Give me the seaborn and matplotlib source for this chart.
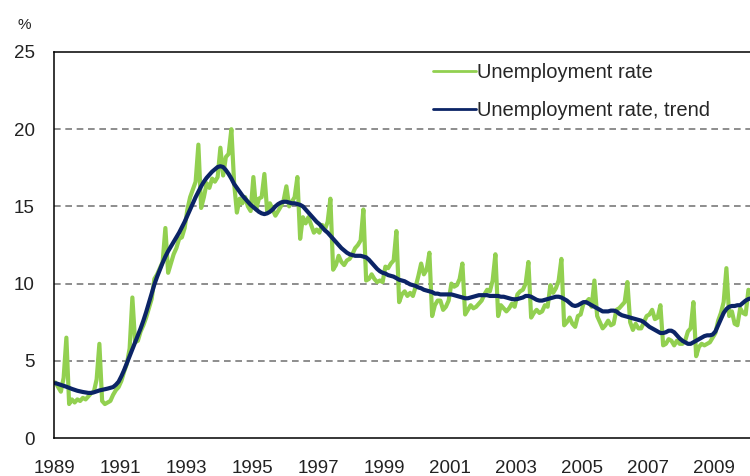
import numpy as np
import pandas as pd
import matplotlib.pyplot as plt
import matplotlib.ticker as mticker
import seaborn as sns

# monthly values, Jan 1989 .. Feb 2010
rate = [
    3.6, 3.3, 3.0, 3.9, 6.5, 2.2, 2.5, 2.3, 2.5, 2.4, 2.6, 2.5,          # 1989
    2.7, 2.9, 3.0, 3.8, 6.1, 2.4, 2.2, 2.3, 2.4, 2.8, 3.1, 3.3,          # 1990
    3.7, 4.3, 4.8, 5.8, 9.1, 6.2, 6.3, 6.9, 7.3, 7.8, 8.4, 9.0,          # 1991
    10.3, 10.6, 11.0, 11.4, 13.6, 10.7, 11.3, 11.9, 12.3, 12.9, 13.0, 13.6,  # 1992
    14.8, 15.6, 16.1, 16.6, 19.0, 14.9, 15.6, 16.5, 16.2, 16.8, 16.6, 16.9,  # 1993
    18.8, 17.0, 18.2, 18.4, 20.0, 16.5, 14.6, 15.5, 15.2, 15.6, 15.0, 14.7,  # 1994
    16.9, 14.8, 15.5, 15.6, 17.1, 14.7, 15.2, 14.8, 14.4, 14.7, 15.0, 15.4,  # 1995
    16.3, 15.0, 15.3, 15.6, 16.9, 12.9, 14.3, 13.9, 14.3, 13.8, 13.3, 13.5,  # 1996
    13.3, 13.8, 13.5, 14.0, 15.5, 10.9, 11.2, 11.8, 11.4, 11.2, 11.5, 11.6,  # 1997
    11.9, 12.3, 12.5, 12.8, 14.8, 10.2, 10.3, 10.6, 10.3, 10.1, 10.2, 10.1,  # 1998
    11.1, 11.0, 11.3, 11.5, 13.4, 8.8, 9.3, 9.5, 9.2, 9.4, 9.2, 9.8,     # 1999
    10.5, 11.3, 10.6, 10.9, 12.0, 7.9, 8.6, 8.9, 8.9, 8.3, 8.5, 8.9,     # 2000
    10.0, 9.8, 9.9, 10.3, 11.3, 8.0, 8.3, 8.6, 8.4, 8.5, 8.7, 8.9,       # 2001
    9.3, 9.6, 9.5, 10.2, 11.9, 7.9, 8.6, 8.4, 8.2, 8.4, 8.7, 8.5,        # 2002
    9.3, 9.5, 9.6, 10.0, 11.4, 7.8, 8.1, 8.3, 8.1, 8.2, 8.6, 8.5,        # 2003
    9.9, 9.4, 9.7, 10.2, 11.6, 7.3, 7.5, 7.8, 7.4, 7.2, 7.9, 8.0,        # 2004
    8.7, 8.8, 9.0, 8.5, 10.2, 7.9, 7.5, 7.1, 7.3, 7.6, 7.3, 7.4,         # 2005
    8.3, 8.4, 8.6, 8.8, 10.1, 7.5, 7.0, 7.4, 7.1, 7.1, 7.5, 7.9,         # 2006
    8.0, 8.3, 7.7, 7.8, 8.6, 6.0, 6.1, 6.4, 6.3, 6.0, 6.3, 6.1,          # 2007
    6.1, 6.3, 6.9, 7.1, 8.8, 5.3, 5.9, 6.1, 6.0, 6.1, 6.2, 6.5,          # 2008
    6.8, 7.6, 8.1, 8.8, 11.0, 7.9, 8.2, 7.4, 7.3, 8.4, 8.1, 8.0,         # 2009
    9.6, 9.5,                                                            # 2010
]

trend = [
    3.55, 3.50, 3.44, 3.38, 3.32, 3.25, 3.18, 3.12, 3.06, 3.02, 2.98, 2.95,
    2.92, 2.92, 2.96, 3.02, 3.08, 3.12, 3.16, 3.20, 3.25, 3.30, 3.45, 3.65,
    4.0, 4.4, 4.85, 5.3, 5.75, 6.2, 6.65, 7.1, 7.6, 8.15, 8.75, 9.35,
    9.95, 10.45, 10.9, 11.35, 11.75, 12.1, 12.4, 12.7, 13.0, 13.3, 13.65, 14.0,
    14.4, 14.8, 15.2, 15.6, 15.95, 16.3, 16.6, 16.85, 17.05, 17.25, 17.4, 17.55,
    17.6, 17.55, 17.35, 17.1, 16.8, 16.45, 16.2, 15.95, 15.7, 15.5, 15.3, 15.1,
    14.95, 14.8, 14.65, 14.55, 14.5, 14.55, 14.65, 14.8, 15.0, 15.15, 15.25, 15.3,
    15.3, 15.25, 15.2, 15.2, 15.15, 15.1, 15.0, 14.8, 14.6, 14.4, 14.2, 14.0,
    13.85, 13.65, 13.45, 13.3, 13.1, 12.9, 12.7, 12.5, 12.3, 12.15, 12.0, 11.9,
    11.85, 11.8, 11.8, 11.8, 11.75, 11.7, 11.55, 11.35, 11.15, 10.95, 10.8, 10.7,
    10.65, 10.55, 10.5, 10.45, 10.35, 10.25, 10.2, 10.15, 10.05, 9.95, 9.9, 9.85,
    9.75, 9.7, 9.6, 9.55, 9.5, 9.45, 9.35, 9.35, 9.3, 9.3, 9.3, 9.3,
    9.3, 9.25, 9.2, 9.15, 9.1, 9.05, 9.05, 9.1, 9.15, 9.2, 9.25, 9.25,
    9.25, 9.25, 9.2, 9.2, 9.2, 9.2, 9.15, 9.15, 9.1, 9.05, 9.0, 8.98,
    9.0, 9.05, 9.1, 9.2, 9.2, 9.15, 9.05, 8.95, 8.9, 8.9, 8.95, 9.0,
    9.05, 9.1, 9.15, 9.15, 9.1, 9.0, 8.9, 8.75, 8.6, 8.55, 8.6, 8.7,
    8.8, 8.8, 8.7, 8.6, 8.5, 8.4, 8.3, 8.2, 8.2, 8.2, 8.25, 8.25,
    8.2, 8.05, 7.95, 7.9, 7.85, 7.8, 7.75, 7.7, 7.65, 7.6, 7.5, 7.35,
    7.2, 7.1, 7.0, 6.9, 6.8, 6.8, 6.85, 6.95, 6.95, 6.85, 6.65, 6.45,
    6.3, 6.2, 6.1, 6.1, 6.2, 6.3, 6.4, 6.5, 6.6, 6.65, 6.65, 6.7,
    6.9, 7.3, 7.7, 8.1, 8.35, 8.5, 8.55, 8.55, 8.6, 8.6, 8.75, 8.9,
    9.0, 9.05,
]

year_labels = [1989, 1991, 1993, 1995, 1997, 1999, 2001, 2003, 2005, 2007, 2009]
y_ticks = [0, 5, 10, 15, 20, 25]
series_names = ["Unemployment rate", "Unemployment rate, trend"]
colors = ["#92d050", "#0b2466"]

# month centres as decimal years
months = 1989 + (np.arange(len(rate)) + 0.5) / 12
df = pd.DataFrame({
    "time": np.concatenate([months, months]),
    "value": rate + trend,
    "series": [series_names[0]] * len(rate) + [series_names[1]] * len(trend),
})

sns.set_style("white")
plt.rcParams["font.family"] = ["Liberation Sans", "DejaVu Sans"]

fig = plt.figure(figsize=(7.5, 4.76), dpi=100)
ax = fig.add_axes([0.072, 0.0798, 0.928, 0.811])

sns.lineplot(data=df, x="time", y="value", hue="series", palette=colors,
             linewidth=3.0, ax=ax, legend=True)

ax.set_xlim(1989, 2010.09)
ax.set_ylim(0, 25)
ax.set_xlabel("")
ax.set_ylabel("")

for y in y_ticks[1:-1]:
    ax.axhline(y, color="#7a7a7a", lw=1.2, dashes=(4, 2.8), zorder=0)

ax.xaxis.set_major_locator(mticker.FixedLocator(year_labels))
ax.xaxis.set_minor_locator(mticker.FixedLocator([y + 1 for y in year_labels]))
ax.set_xticklabels([str(y) for y in year_labels])
ax.set_yticks(y_ticks)
ax.tick_params(axis="both", which="both", direction="out", length=5, width=1.1,
               color="black", labelsize=13.5, labelcolor="#222222")
ax.tick_params(axis="y", pad=9)
ax.tick_params(axis="x", pad=10.5)

for side in ["left", "bottom", "top"]:
    ax.spines[side].set_visible(True)
    ax.spines[side].set_color("black")
    ax.spines[side].set_linewidth(1.1)
ax.spines["right"].set_visible(False)

handles, labels = ax.get_legend_handles_labels()
leg = ax.legend(handles, labels, loc="upper left", bbox_to_anchor=(0.564, 0.889),
                bbox_transform=fig.transFigure, frameon=False, fontsize=14.5,
                handlelength=2.15, handletextpad=0.05, labelspacing=0.95, borderpad=0)
for line in leg.get_lines():
    line.set_linewidth(2.0)

fig.text(0.024, 0.948, "%", fontsize=11, color="#222222", ha="left", va="center")

fig.savefig("out.png", dpi=100)
